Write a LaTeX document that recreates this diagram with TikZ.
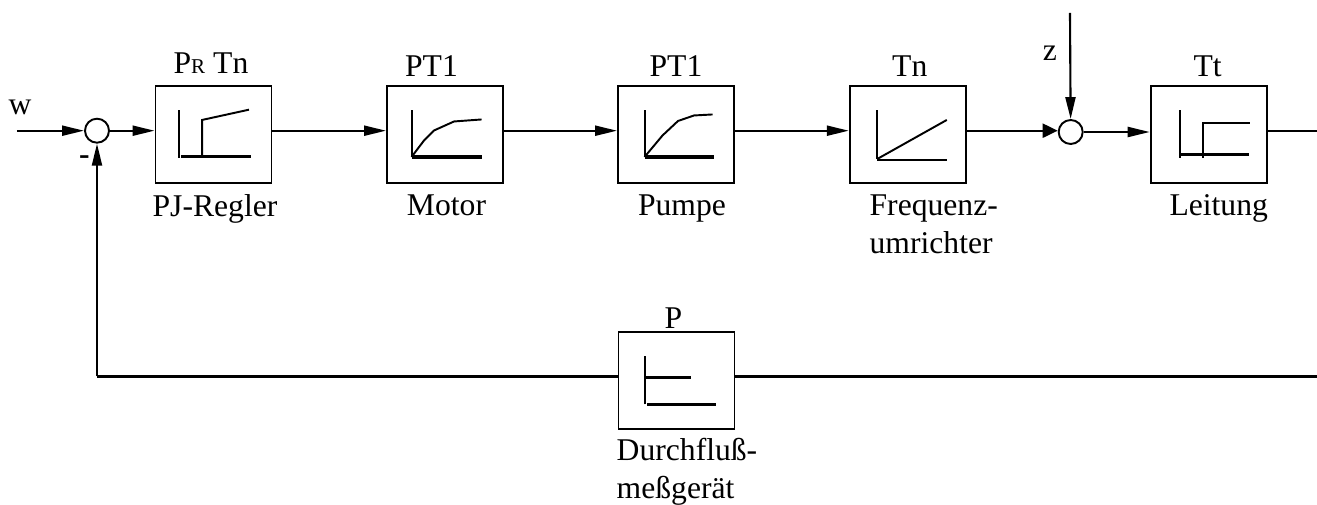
\documentclass[tikz,border=0pt]{standalone}
\usepackage{fontspec}
\setmainfont{Liberation Serif}
\usetikzlibrary{arrows.meta, positioning}
\tikzset{
  blockbox/.style={draw, line width=1.1pt, minimum width=2.32cm, minimum height=1.94cm, inner sep=0pt},
  sumnode/.style={draw, circle, line width=1.1pt, minimum size=0.48cm, inner sep=0pt},
  sig/.style={line width=1.2pt},
  sigarrow/.style={line width=1.2pt, -{Triangle[length=0.44cm, width=0.2cm]}},
  shortarrow/.style={line width=1.2pt, -{Triangle[length=0.3cm, width=0.28cm]}},
  axisv/.style={line width=1.1pt},
  axish/.style={line width=1.8pt},
  curveline/.style={line width=1.1pt},
  blocktext/.style={font=\fontsize{18}{21.8}\selectfont, inner sep=0pt}
}
\begin{document}
\begin{tikzpicture}[scale=1.0]
  \useasboundingbox (0,0) rectangle (26.34,10.1);
  % Forward path
  \node[sumnode] (sumw) at (1.94,7.486) {};
  \node[blockbox] (regler) at (4.27,7.41) {};
  \node[blockbox] (motor) at (8.9,7.41) {};
  \node[blockbox] (pumpe) at (13.52,7.41) {};
  \node[blockbox] (umrichter) at (18.155,7.41) {};
  \node[sumnode] (sumz) at (21.414,7.46) {};
  \node[blockbox] (leitung) at (24.174,7.41) {};
  \node[blockbox] (messer) at (13.53,2.49) {};
  \coordinate (wstart) at (0.34,7.486);
  \coordinate (zstart) at (21.4,9.84);
  \coordinate (rightend) at (26.34,7.486);
  \coordinate (fbright) at (26.34,2.57);
  \draw[sigarrow] (wstart) -- (sumw);
  \draw[sigarrow] (sumw) -- (regler.west |- sumw);
  \draw[sigarrow] (regler.east |- sumw) -- (motor.west |- sumw);
  \draw[sigarrow] (motor.east |- sumw) -- (pumpe.west |- sumw);
  \draw[sigarrow] (pumpe.east |- sumw) -- (umrichter.west |- sumw);
  \draw[shortarrow] (umrichter.east |- sumw) -- (sumz.west |- sumw);
  \draw[sigarrow] (sumz) -- (leitung.west |- sumz);
  \draw[sigarrow] (zstart) -- (sumz);
  \draw[sig] (leitung.east |- rightend) -- (rightend);
  % Feedback path
  \draw[line width=1.7pt] (fbright) -- (messer.east |- fbright);
  \draw[line width=1.7pt] (messer.west |- fbright) -- (sumw |- fbright);
  \draw[sigarrow] (sumw |- fbright) -- (sumw);
  % Block icons
  \begin{scope}[shift={(regler.south west)}]
    \draw[axisv] (0.49,0.52) -- (0.49,1.48);
    \draw[axish] (0.53,0.546) -- (1.93,0.546);
    \draw[curveline] (0.95,0.546) -- (0.95,1.28) -- (1.89,1.486);
  \end{scope}
  \begin{scope}[shift={(motor.south west)}]
    \draw[axisv] (0.51,0.54) -- (0.51,1.47);
    \draw[axish] (0.51,0.54) -- (1.91,0.54);
    \draw[curveline] (0.51,0.54) -- (0.76,0.87) -- (0.96,1.07) -- (1.36,1.25) -- (1.91,1.29);
  \end{scope}
  \begin{scope}[shift={(pumpe.south west)}]
    \draw[axisv] (0.55,0.54) -- (0.55,1.47);
    \draw[axish] (0.55,0.54) -- (1.94,0.54);
    \draw[curveline] (0.55,0.54) -- (0.91,0.97) -- (1.22,1.26) -- (1.54,1.37) -- (1.91,1.39);
  \end{scope}
  \begin{scope}[shift={(umrichter.south west)}]
    \draw[axisv] (0.57,0.50) -- (0.57,1.47);
    \draw[line width=1.3pt] (0.57,0.48) -- (1.96,0.48);
    \draw[curveline] (0.57,0.50) -- (1.96,1.28);
  \end{scope}
  \begin{scope}[shift={(leitung.south west)}]
    \draw[axisv] (0.60,0.52) -- (0.60,1.48);
    \draw[axish] (0.60,0.59) -- (1.99,0.59);
    \draw[curveline] (1.06,0.52) -- (1.06,1.22) -- (2.0,1.22);
  \end{scope}
  \begin{scope}[shift={(messer.south west)}]
    \draw[axisv] (0.55,0.51) -- (0.55,1.48);
    \draw[axish] (0.55,1.05) -- (1.47,1.05);
    \draw[axish] (0.59,0.51) -- (1.97,0.51);
  \end{scope}
  % Labels
  \node[blocktext, above=0.22cm of regler, xshift=-0.05cm] (tregler) {P{\fontsize{12}{12}\selectfont R} Tn};
  \node[blocktext, above=0.16cm of motor, xshift=-0.27cm] (tmotor) {PT1};
  \node[blocktext, above=0.16cm of pumpe] (tpumpe) {PT1};
  \node[blocktext, above=0.16cm of umrichter, xshift=0.04cm] (tumrichter) {Tn};
  \node[blocktext, above=0.16cm of leitung, xshift=-0.02cm] (tleitung) {Tt};
  \node[blocktext, above=0.04cm of messer, xshift=-0.06cm] (tmesser) {P};
  \node[blocktext, below=0.2cm of regler, xshift=0.03cm] (lregler) {PJ-Regler};
  \node[blocktext, below=0.2cm of motor, xshift=0.03cm] (lmotor) {Motor};
  \node[blocktext, below=0.2cm of pumpe, xshift=0.12cm] (lpumpe) {Pumpe};
  \node[blocktext, below=0.2cm of umrichter, align=left, xshift=0.52cm] (lumrichter) {Frequenz-\\umrichter};
  \node[blocktext, below=0.2cm of leitung, xshift=0.2cm] (lleitung) {Leitung};
  \node[blocktext, below=0.16cm of messer, align=left, xshift=0.21cm] (lmesser) {Durchfluß-\\meßgerät};
  \node[blocktext] (lw) at (0.4,7.96) {w};
  \node[blocktext] (lz) at (21.0,9.04) {z};
  \node[blocktext, font=\fontsize{18}{21.8}\bfseries] (lminus) at (1.69,6.90) {-};
\end{tikzpicture}
\end{document}
